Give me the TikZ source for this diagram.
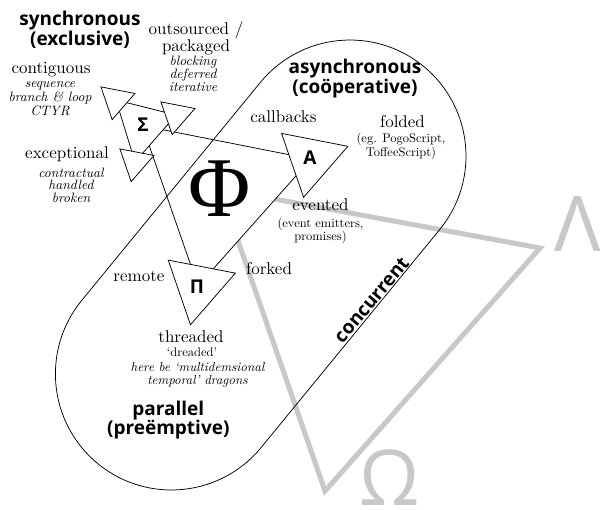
\documentclass[tikz,border=0pt]{standalone}
\usepackage{fontspec}
\setmainfont{lmroman10-regular}[Extension=.otf,ItalicFont=lmroman10-italic,BoldFont=lmroman10-bold]
\newfontfamily\headfont{Open Sans}
\newfontfamily\phifont{Liberation Serif}
\definecolor{lightg}{HTML}{C8C8C8}
\begin{document}
\begin{tikzpicture}[x=1pt,y=1pt,
  ln/.style={draw=black,line width=0.75pt},
  tri/.style={draw=black,fill=white,line width=0.75pt,line join=miter},
  greyline/.style={draw=lightg,line width=5pt,line join=miter},
  lbl/.style={inner sep=0pt,align=center,font=\fontsize{17}{15}\selectfont},
  sub/.style={inner sep=0pt,align=center,font=\fontsize{13.6}{11}\selectfont\itshape},
  note/.style={inner sep=0pt,align=center,font=\fontsize{12.5}{13}\selectfont},
  head/.style={inner sep=0pt,align=center,font=\fontsize{19}{18.5}\selectfont\headfont\bfseries},
  glyph/.style={inner sep=0pt,font=\fontsize{19}{19}\selectfont\headfont\bfseries},
  bigg/.style={inner sep=0pt,text=lightg,font=\fontsize{77}{77}\selectfont\headfont}]
\fill[white] (0,0) rectangle (600,-509);
\useasboundingbox (0,0) rectangle (600,-509);

% centres
\coordinate (S) at (142.3,-125.7);
\coordinate (A) at (311,-159);
\coordinate (P) at (198,-286);
\coordinate (F) at (220,-189);
\coordinate (gL) at (540,-248);
\coordinate (gO) at (325,-491);
\coordinate (s1) at (116,-100);
\coordinate (s2) at (176,-115);
\coordinate (s3) at (135,-162);

% grey meta triangle
\draw[greyline] (F) -- (gL) -- (gO) -- cycle;

% Phi triangle
\filldraw[tri] (S) -- (A) -- (P) -- cycle;

% capsule
\begin{scope}[shift={(260.7,-265)},rotate=50.67]
\draw[ln] (-140.9,-116) -- (140.9,-116) arc[start angle=-90,end angle=90,radius=116]
  -- (-140.9,116) arc[start angle=90,end angle=270,radius=116] -- cycle;
\end{scope}

% Sigma triangle and its corner triangles
\filldraw[tri] (s1) -- (s2) -- (s3) -- cycle;
\filldraw[tri,shift={(s1)}] (19:20) -- (139:20) -- (259:20) -- cycle;
\filldraw[tri,shift={(s2)}] (19:20) -- (139:20) -- (259:20) -- cycle;
\filldraw[tri,shift={(s3)}] (19:20) -- (139:20) -- (259:20) -- cycle;

% A and Pi triangles
\filldraw[tri,shift={(A)}] (19:39) -- (139:39) -- (259:39) -- cycle;
\filldraw[tri,shift={(P)}] (19:39.5) -- (139:39.5) -- (259:39.5) -- cycle;

% glyphs
\node[glyph] (sig) at (143,-125) {Σ};
\node[glyph] (alp) at (310,-158) {A};
\node[glyph] (pii) at (197,-287) {Π};
\node[inner sep=0pt,font=\fontsize{85}{85}\selectfont\phifont] (phi) at (F) {Φ};
\node[bigg] (lam) at (578,-224) {Λ};
\node[bigg] (om) at (390,-478) {Ω};

% headings
\node[head,font=\fontsize{19}{18}\selectfont\headfont\bfseries] (hsync) at (80,-30.1) {synchronous\\(exclusive)};
\node[head,font=\fontsize{19}{18.7}\selectfont\headfont\bfseries] (hasync) at (355,-78.5) {asynchronous\\(coöperative)};
\node[head,font=\fontsize{19}{19.3}\selectfont\headfont\bfseries] (hpar) at (168.3,-419.8) {parallel\\(preëmptive)};
\node[head,rotate=50] (conc) at (371.7,-300) {concurrent};

% labels
\node[lbl] (outs) at (196,-38.5) {outsourced /\\packaged};
\node[sub] (outsub) at (193,-73.5) {blocking\\deferred\\iterative};
\node[lbl] (contig) at (51,-70) {contiguous};
\node[sub,font=\fontsize{13.6}{14}\selectfont\itshape] (contsub) at (50,-98.4) {sequence\\branch \& loop\\CTYR};
\node[lbl] (except) at (67,-154.5) {exceptional};
\node[sub,font=\fontsize{13.6}{12.5}\selectfont\itshape] (excsub) at (71,-185) {contractual\\handled\\broken};
\node[lbl] (callb) at (283.5,-117) {callbacks};
\node[lbl] (fold) at (402.5,-121.7) {folded};
\node[note,font=\fontsize{12.5}{13.7}\selectfont] (foldsub) at (401,-146.7) {(eg. PogoScript,\\ToffeeScript)};
\node[lbl] (evt) at (320.5,-205) {evented};
\node[note,font=\fontsize{12.5}{12.3}\selectfont] (evtsub) at (320.5,-230.7) {(event emitters,\\promises)};
\node[lbl] (remote) at (139,-276.7) {remote};
\node[lbl] (forked) at (269,-269) {forked};
\node[lbl] (thr) at (191,-336.4) {threaded};
\node[note] (dread) at (192,-352.5) {‘dreaded’};
\node[sub,font=\fontsize{13}{12.6}\selectfont\itshape] (dragons) at (197.5,-374.8) {here be ‘multidemsional\\temporal’ dragons};
\end{tikzpicture}
\end{document}
